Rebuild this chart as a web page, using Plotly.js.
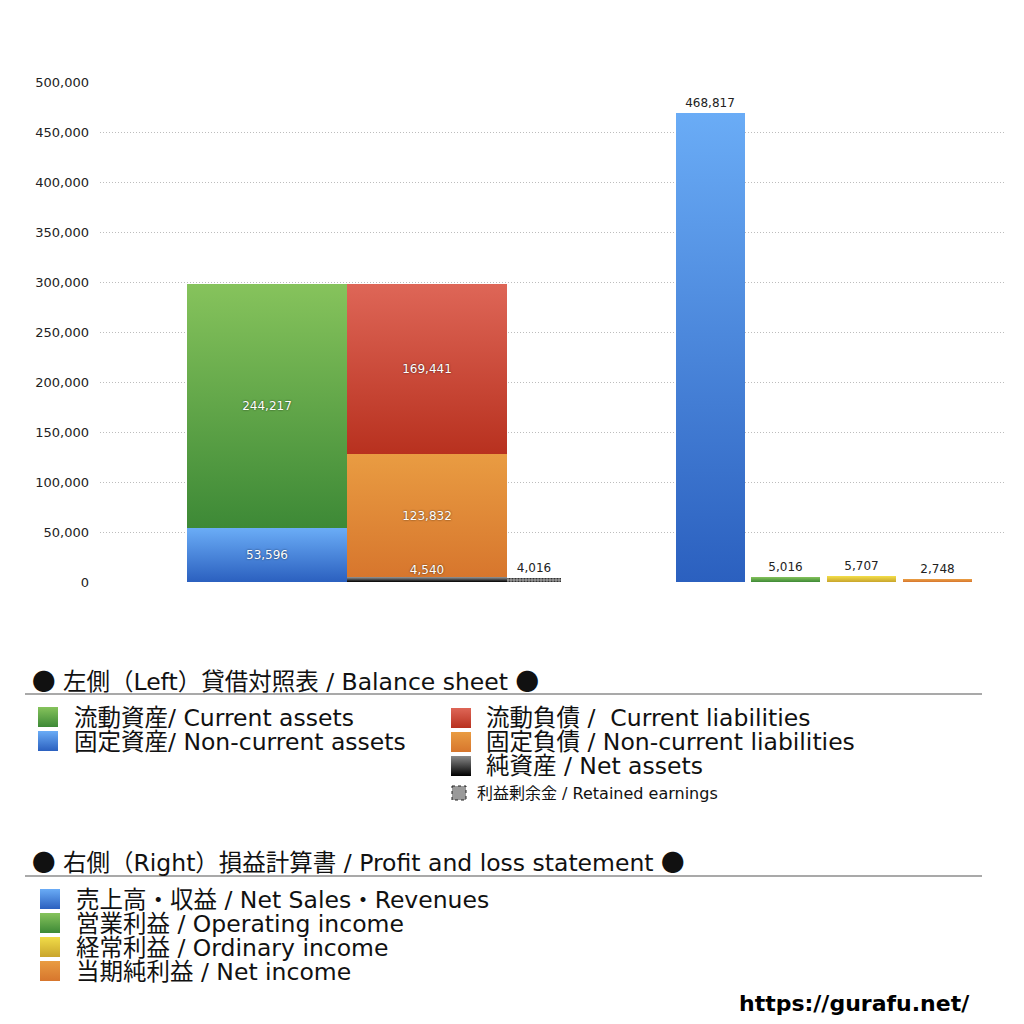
<!DOCTYPE html>
<html>
<head>
<meta charset="utf-8">
<script src="https://cdn.plot.ly/plotly-3.0.1.min.js"></script>
<style>
  html, body { margin: 0; padding: 0; background: #ffffff; }
  #chart { width: 1024px; height: 1024px; }
</style>
</head>
<body>
<div id="chart"></div>
<script>
/****************************************************************************************/
// DATOS
// Lado izquierdo: balance
const bsNames = ['固定資産', '流動資産', '純資産', '固定負債', '流動負債'];
const bsColumn = ['assets', 'assets', 'liab', 'liab', 'liab'];
const bsValues = [53596, 244217, 4540, 123832, 169441];
const retainedName = '利益剰余金';
const retainedValue = 4016;

// Lado derecho: resultados
const plNames = ['売上高・収益', '営業利益', '経常利益', '当期純利益'];
const plValues = [468817, 5016, 5707, 2748];

// Textos de leyenda
const bsHeader = '● 左側（Left）貸借対照表 / Balance sheet ●';
const plHeader = '● 右側（Right）損益計算書 / Profit and loss statement ●';
const bsLegendLeft = ['流動資産/ Current assets', '固定資産/ Non-current assets'];
const bsLegendRight = ['流動負債 /  Current liabilities', '固定負債 / Non-current liabilities', '純資産 / Net assets'];
const retainedLegend = '利益剰余金 / Retained earnings';
const plLegend = ['売上高・収益 / Net Sales・Revenues', '営業利益 / Operating income', '経常利益 / Ordinary income', '当期純利益 / Net income'];
const siteUrl = 'https://gurafu.net/';

/****************************************************************************************/
// POSICIONES Y ESTILOS (eje x en pixeles de la imagen)
const COL_POS = { assets: 267, liab: 427, retained: 534 };
const COL_WIDTH = { assets: 160, liab: 160, retained: 54 };
const PL_POS = [710, 785.5, 861.5, 937.5];
const PL_WIDTH = 69;

const GRAD = {
    green:  ['#86c35c', '#3d8936'],
    blue:   ['#6aacf6', '#2b60bf'],
    red:    ['#de6657', '#b8311f'],
    orange: ['#e99c42', '#d7762d'],
    dark:   ['#8a8a8a', '#000000'],
    yellow: ['#f1dc48', '#c9a52c']
};
const bsGrad = ['blue', 'green', 'dark', 'orange', 'red'];
const plGrad = ['blue', 'green', 'yellow', 'orange'];

const FONT = "'DejaVu Sans', 'Noto Sans CJK JP', sans-serif";
const LEG_SIZE = 23.5;
const fmt = v => v.toLocaleString('en-US');
// el circulo se dibuja con la fuente CJK (mas grande, como en el original)
const bigDots = s => s.replace(/●/g, "<span style=\"font-family:'Noto Sans CJK JP'\">●</span>");

/****************************************************************************************/
// TRAZAS
const traces = [];
const gradOrder = [];

bsValues.forEach((v, i) => {
    const col = bsColumn[i];
    const small = v < 20000;
    traces.push({
        type: 'bar', name: bsNames[i],
        x: [COL_POS[col]], y: [v], width: [COL_WIDTH[col]],
        marker: { color: GRAD[bsGrad[i]][1], line: { width: 0 } },
        text: small ? [''] : [fmt(v)],
        textposition: 'inside', insidetextanchor: 'middle',
        textfont: { color: '#ffffff', size: 12, family: FONT, shadow: '0px 0px 2px rgba(0,0,0,0.7)' },
        hoverinfo: 'name+y', showlegend: false
    });
    gradOrder.push(bsGrad[i]);
});

traces.push({
    type: 'bar', name: retainedName,
    x: [COL_POS.retained], y: [retainedValue], width: [COL_WIDTH.retained],
    marker: { color: '#9a9a9a', line: { width: 0 },
              pattern: { shape: '.', fgcolor: '#333333', bgcolor: '#9a9a9a', size: 3, solidity: 0.4 } },
    text: [fmt(retainedValue)], textposition: 'outside', cliponaxis: false,
    textfont: { color: '#222222', size: 12, family: FONT },
    hoverinfo: 'name+y', showlegend: false
});
gradOrder.push(null);

plValues.forEach((v, i) => {
    traces.push({
        type: 'bar', name: plNames[i],
        x: [PL_POS[i]], y: [v], width: [PL_WIDTH],
        marker: { color: GRAD[plGrad[i]][1], line: { width: 0 } },
        text: [fmt(v)], textposition: 'outside', cliponaxis: false,
        textfont: { color: '#222222', size: 12, family: FONT },
        hoverinfo: 'name+y', showlegend: false
    });
    gradOrder.push(plGrad[i]);
});

// etiqueta del segmento pequeño (純資産)
const naIdx = 2;
traces.push({
    type: 'scatter', mode: 'text',
    x: [COL_POS[bsColumn[naIdx]]], y: [bsValues[naIdx]],
    text: [fmt(bsValues[naIdx])], textposition: 'top center',
    textfont: { color: '#ffffff', size: 12, family: FONT, shadow: '0px 0px 2px rgba(0,0,0,0.7)' },
    hoverinfo: 'skip', showlegend: false, cliponaxis: false
});

/****************************************************************************************/
// LEYENDA PERSONALIZADA (shapes + annotations en coordenadas paper)
const PLOT_L = 100, PLOT_R = 1005, PLOT_T = 82, PLOT_B = 582;
const px = x => (x - PLOT_L) / (PLOT_R - PLOT_L);
const py = y => (PLOT_B - y) / (PLOT_B - PLOT_T);

const shapes = [];
const annotations = [];
const swatchMap = {};   // indice de shape -> degradado

function addText(txt, x, y, size, opts) {
    annotations.push(Object.assign({
        text: txt, xref: 'paper', yref: 'paper', x: px(x), y: py(y),
        xanchor: 'left', yanchor: 'middle', showarrow: false,
        font: { family: FONT, size: size, color: '#111111' }
    }, opts || {}));
}
function addSwatch(x0, y0, size, grad) {
    swatchMap[shapes.length] = grad;
    shapes.push({
        type: 'rect', xref: 'paper', yref: 'paper',
        x0: px(x0), x1: px(x0 + size), y0: py(y0), y1: py(y0 + size),
        fillcolor: GRAD[grad][1], line: { width: 0 }
    });
}
function addLine(y) {
    shapes.push({
        type: 'line', xref: 'paper', yref: 'paper',
        x0: px(25), x1: px(982), y0: py(y), y1: py(y),
        line: { color: '#555555', width: 1.2 }
    });
}

// Balance
addText(bigDots(bsHeader), 30, 680, LEG_SIZE);
addLine(694);
bsLegendLeft.forEach((t, i) => {
    addSwatch(38, 707 + i * 24, 20, ['green', 'blue'][i]);
    addText(t, 72, 718 + i * 24, LEG_SIZE);
});
bsLegendRight.forEach((t, i) => {
    addSwatch(451, 708 + i * 24, 20, ['red', 'orange', 'dark'][i]);
    addText(t, 484, 718 + i * 24, LEG_SIZE);
});
shapes.push({
    type: 'rect', xref: 'paper', yref: 'paper',
    x0: px(452), x1: px(466), y0: py(786), y1: py(800),
    fillcolor: '#9a9a9a', line: { color: '#222222', width: 1, dash: 'dot' }
});
addText(retainedLegend, 475, 793, 16);

// Resultados
addText(bigDots(plHeader), 30, 861, LEG_SIZE);
addLine(876);
plLegend.forEach((t, i) => {
    addSwatch(40, 889 + i * 24, 20, plGrad[i]);
    addText(t, 74, 900 + i * 24, LEG_SIZE);
});

addText(siteUrl, 972, 1004, 22, { xanchor: 'right', font: { family: "'DejaVu Sans', sans-serif", size: 22, color: '#000000', weight: 'bold' } });

/****************************************************************************************/
// LAYOUT
const layout = {
    width: 1024, height: 1024,
    paper_bgcolor: '#ffffff', plot_bgcolor: '#ffffff',
    margin: { l: PLOT_L, r: 1024 - PLOT_R, t: PLOT_T, b: 1024 - PLOT_B, pad: 0 },
    barmode: 'stack',
    showlegend: false,
    font: { family: FONT, color: '#222222' },
    xaxis: { range: [PLOT_L, PLOT_R], visible: false, fixedrange: true },
    yaxis: {
        range: [-1, 500001], tickvals: [0, 50000, 100000, 150000, 200000, 250000, 300000, 350000, 400000, 450000, 500000],
        tickformat: ',d',
        showgrid: true, gridcolor: '#bdbdbd', griddash: '1px,2px', gridwidth: 1,
        zeroline: false, showline: false, ticks: '',
        ticklabelstandoff: 10,
        tickfont: { size: 13, color: '#222222', family: "'DejaVu Sans', sans-serif" }
    },
    shapes: shapes,
    annotations: annotations
};

/****************************************************************************************/
// DEGRADADOS: se inyectan en el SVG despues de dibujar
function addGradients(gd) {
    const svgNS = 'http://www.w3.org/2000/svg';
    const defs = gd.querySelector('svg.main-svg defs');
    Object.keys(GRAD).forEach(k => {
        const g = document.createElementNS(svgNS, 'linearGradient');
        g.setAttribute('id', 'grad-' + k);
        g.setAttribute('x1', '0'); g.setAttribute('y1', '0');
        g.setAttribute('x2', '0'); g.setAttribute('y2', '1');
        [[0, GRAD[k][0]], [1, GRAD[k][1]]].forEach(([o, c]) => {
            const s = document.createElementNS(svgNS, 'stop');
            s.setAttribute('offset', o);
            s.setAttribute('stop-color', c);
            g.appendChild(s);
        });
        defs.appendChild(g);
    });

    const barTraces = gd.querySelectorAll('.barlayer .trace.bars');
    barTraces.forEach((tr, i) => {
        const grad = gradOrder[i];
        if (!grad) return;
        tr.querySelectorAll('.point path').forEach(p => {
            p.style.fill = 'url(#grad-' + grad + ')';
        });
    });

    Object.keys(swatchMap).forEach(idx => {
        gd.querySelectorAll('.shapelayer path[data-index="' + idx + '"]').forEach(p => {
            p.style.fill = 'url(#grad-' + swatchMap[idx] + ')';
        });
    });
}

Plotly.newPlot('chart', traces, layout, { displayModeBar: false, staticPlot: true })
    .then(addGradients);
</script>
</body>
</html>
